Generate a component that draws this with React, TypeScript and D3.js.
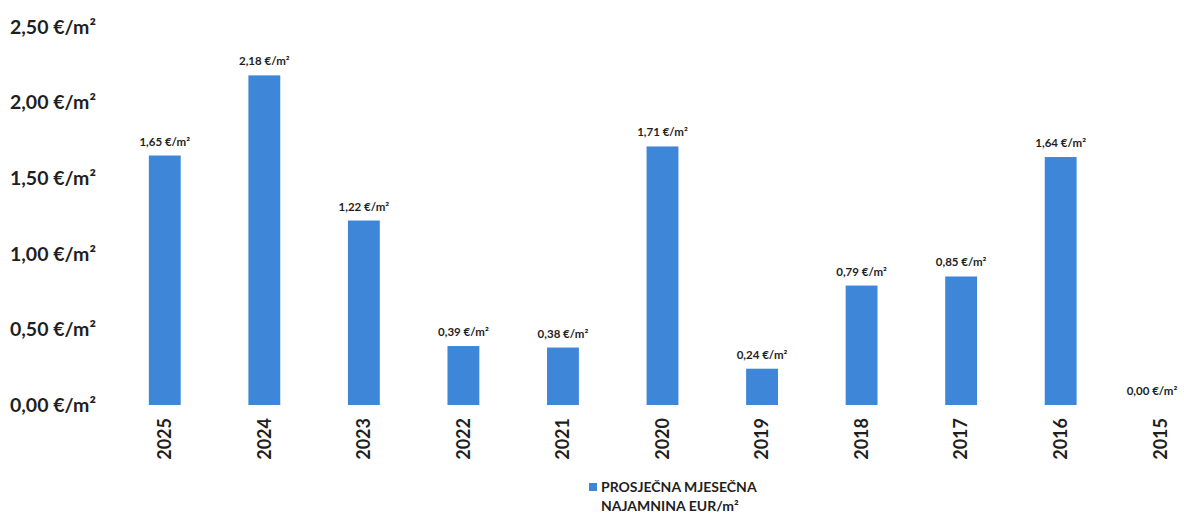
import React from "react";
import * as d3 from "d3";

const WIDTH = 1184;
const HEIGHT = 515;

const years = ["2025", "2024", "2023", "2022", "2021", "2020", "2019", "2018", "2017", "2016", "2015"];
const rent = [1.65, 2.18, 1.22, 0.39, 0.38, 1.71, 0.24, 0.79, 0.85, 1.64, 0.0];
const yTicks = [0, 0.5, 1, 1.5, 2, 2.5];

const BAR_COLOR = "#3d86d8";
const TEXT = "#1f1f1f";
const FONT = "Lato, 'Open Sans', sans-serif";

const fmt = (v: number) => v.toFixed(2).replace(".", ",") + " €/m²";

export default function App() {
  const x = d3.scaleBand().domain(years).range([115, 1210]).paddingInner(0.68).paddingOuter(0.34);
  const y = d3.scaleLinear().domain([0, 2.5]).range([405, 27]);

  return (
    <svg width={WIDTH} height={HEIGHT} style={{ position: "absolute", left: 0, top: 0, background: "#fff" }}>
      {yTicks.map((t) => (
        <text key={t} x={10} y={y(t)} dy="0.35em" fontFamily={FONT} fontWeight={700} fontSize={19.5} fill={TEXT}>
          {fmt(t)}
        </text>
      ))}
      {years.map((yr, i) => {
        const bx = x(yr)!;
        const cx = bx + x.bandwidth() / 2;
        // keep the last label inside the picture
        const lx = Math.min(cx, WIDTH - 32);
        return (
          <g key={yr}>
            {rent[i] > 0 && (
              <rect x={bx} y={y(rent[i])} width={x.bandwidth()} height={y(0) - y(rent[i])} fill={BAR_COLOR} />
            )}
            <text x={lx} y={y(rent[i]) - 10} textAnchor="middle" fontFamily={FONT} fontWeight={700} fontSize={11.5} fill={TEXT}>
              {fmt(rent[i])}
            </text>
            <text
              transform={`translate(${cx},${y(0) + 13}) rotate(-90)`}
              textAnchor="end"
              dy="0.35em"
              fontFamily={FONT}
              fontWeight={700}
              fontSize={18}
              fill={TEXT}
            >
              {yr}
            </text>
          </g>
        );
      })}
      <rect x={589} y={483} width={8} height={8} fill={BAR_COLOR} />
      <text x={601} y={492} fontFamily={FONT} fontWeight={700} fontSize={14} fill={TEXT}>
        PROSJEČNA MJESEČNA
      </text>
      <text x={601} y={511} fontFamily={FONT} fontWeight={700} fontSize={14} fill={TEXT}>
        NAJAMNINA EUR/m²
      </text>
    </svg>
  );
}
